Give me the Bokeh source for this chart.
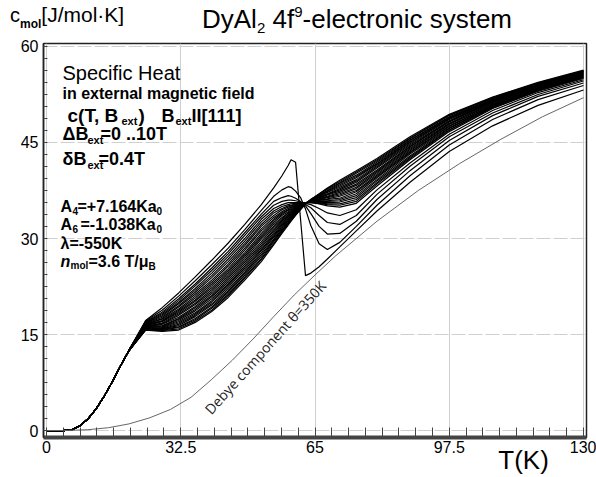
from bokeh.plotting import figure
from bokeh.models import Range1d, FixedTicker, Label, Div, LinearAxis
from bokeh.layouts import column
from bokeh.embed import file_html
from bokeh.resources import INLINE

# ---------------- data ----------------
# common steep low-temperature part (all fields coincide)
T_low = [0, 4, 6, 8, 10, 12, 14, 16, 18]
c_low = [0, 0, 0.1, 0.7, 1.8, 3.4, 5.4, 7.7, 10.2]

T_grid = [20, 24, 28, 32, 36, 40, 44, 48, 52, 55, 57, 58.5, 59.2, 60.3, 61.5, 62.7,
          64, 66, 68, 71, 75, 80, 88, 97.5, 108, 119, 130]

# c(T) for B_ext = 0, 0.4, ..., 10 T
c_B00 = [12.6, 17.2, 19.2, 21.5, 24.0, 26.6, 29.3, 32.2, 35.3, 37.9, 39.8, 41.4, 42.3, 41.9, 33.0, 24.2,
         24.6, 25.6, 26.8, 28.7, 31.2, 34.3, 38.8, 43.6, 47.6, 50.8, 53.2]
c_B04 = [12.6, 17.1, 18.8, 21.0, 23.4, 25.9, 28.5, 31.4, 34.4, 36.6, 37.6, 38.1, 38.0, 37.4, 36.4, 34.6,
         32.0, 29.2, 28.3, 29.4, 31.9, 35.2, 39.8, 44.6, 48.6, 51.7, 53.9]
c_B08 = [12.6, 17.0, 18.5, 20.6, 22.9, 25.4, 28.0, 30.9, 33.8, 35.8, 36.4, 36.7, 36.6, 36.3, 35.8, 35.1,
         33.9, 31.9, 30.7, 30.8, 32.7, 36.1, 40.6, 45.3, 49.2, 52.2, 54.3]
c_B12 = [12.6, 16.9, 18.3, 20.3, 22.6, 25.0, 27.6, 30.5, 33.4, 35.2, 35.8, 36.0, 36.0, 35.9, 35.7, 35.3,
         34.8, 33.6, 32.5, 32.2, 33.6, 36.9, 41.3, 45.9, 49.6, 52.5, 54.6]
c_B16 = [12.6, 16.8, 18.1, 20.0, 22.2, 24.6, 27.2, 30.0, 33.0, 34.7, 35.3, 35.6, 35.6, 35.6, 35.6, 35.5,
         35.3, 34.7, 34.0, 33.6, 34.5, 37.6, 41.8, 46.3, 50.0, 52.8, 54.8]
c_B20 = [12.6, 16.8, 17.9, 19.8, 21.9, 24.2, 26.8, 29.6, 32.6, 34.3, 35.0, 35.3, 35.4, 35.5, 35.6, 35.6,
         35.6, 35.4, 35.1, 34.9, 35.5, 38.2, 42.3, 46.7, 50.3, 53.0, 55.0]
c_B24 = [12.6, 16.7, 17.7, 19.5, 21.6, 23.9, 26.4, 29.2, 32.2, 34.0, 34.7, 35.1, 35.2, 35.4, 35.5, 35.6,
         35.6, 35.5, 35.3, 35.2, 35.8, 38.5, 42.5, 46.9, 50.4, 53.1, 55.1]
c_B28 = [12.6, 16.6, 17.5, 19.3, 21.3, 23.5, 26.0, 28.9, 31.9, 33.6, 34.5, 34.9, 35.1, 35.3, 35.5, 35.6,
         35.7, 35.6, 35.4, 35.4, 36.1, 38.7, 42.7, 47.0, 50.5, 53.2, 55.2]
c_B32 = [12.6, 16.6, 17.4, 19.0, 21.0, 23.2, 25.7, 28.5, 31.5, 33.3, 34.2, 34.7, 34.9, 35.2, 35.4, 35.6,
         35.7, 35.7, 35.6, 35.7, 36.4, 39.0, 42.9, 47.2, 50.6, 53.3, 55.2]
c_B36 = [12.6, 16.5, 17.2, 18.8, 20.7, 22.9, 25.3, 28.2, 31.2, 33.0, 34.0, 34.5, 34.8, 35.1, 35.3, 35.6,
         35.7, 35.8, 35.8, 35.9, 36.7, 39.2, 43.2, 47.3, 50.7, 53.3, 55.3]
c_B40 = [12.6, 16.4, 17.1, 18.6, 20.4, 22.6, 25.0, 27.8, 30.8, 32.8, 33.8, 34.4, 34.6, 35.0, 35.3, 35.5,
         35.7, 35.9, 35.9, 36.1, 37.0, 39.5, 43.4, 47.5, 50.8, 53.4, 55.4]
c_B44 = [12.6, 16.4, 17.0, 18.4, 20.2, 22.3, 24.7, 27.5, 30.5, 32.5, 33.6, 34.2, 34.5, 34.9, 35.2, 35.5,
         35.8, 36.0, 36.1, 36.3, 37.3, 39.7, 43.5, 47.6, 50.9, 53.5, 55.4]
c_B48 = [12.6, 16.3, 16.8, 18.2, 19.9, 22.0, 24.4, 27.2, 30.2, 32.2, 33.3, 34.0, 34.3, 34.8, 35.2, 35.5,
         35.8, 36.0, 36.2, 36.6, 37.5, 39.9, 43.7, 47.8, 51.0, 53.6, 55.5]
c_B52 = [12.5, 16.3, 16.7, 18.0, 19.7, 21.7, 24.1, 26.9, 29.9, 31.9, 33.1, 33.9, 34.2, 34.7, 35.1, 35.5,
         35.8, 36.1, 36.4, 36.8, 37.8, 40.1, 43.9, 47.9, 51.1, 53.6, 55.6]
c_B56 = [12.5, 16.2, 16.6, 17.7, 19.4, 21.4, 23.8, 26.6, 29.5, 31.7, 32.9, 33.7, 34.1, 34.6, 35.1, 35.5,
         35.8, 36.2, 36.5, 37.0, 38.0, 40.3, 44.1, 48.0, 51.2, 53.7, 55.6]
c_B60 = [12.5, 16.2, 16.4, 17.5, 19.2, 21.1, 23.5, 26.3, 29.2, 31.4, 32.7, 33.6, 33.9, 34.5, 35.0, 35.5,
         35.9, 36.3, 36.6, 37.2, 38.3, 40.5, 44.3, 48.2, 51.3, 53.8, 55.7]
c_B64 = [12.5, 16.1, 16.3, 17.4, 18.9, 20.9, 23.2, 26.0, 28.9, 31.2, 32.5, 33.4, 33.8, 34.4, 35.0, 35.5,
         35.9, 36.3, 36.8, 37.4, 38.5, 40.7, 44.4, 48.3, 51.4, 53.8, 55.8]
c_B68 = [12.5, 16.1, 16.2, 17.2, 18.7, 20.6, 22.9, 25.7, 28.6, 30.9, 32.3, 33.3, 33.7, 34.3, 34.9, 35.5,
         35.9, 36.4, 36.9, 37.6, 38.8, 41.0, 44.6, 48.4, 51.5, 53.9, 55.8]
c_B72 = [12.5, 16.0, 16.1, 17.0, 18.4, 20.3, 22.7, 25.4, 28.3, 30.6, 32.1, 33.1, 33.5, 34.2, 34.8, 35.5,
         35.9, 36.5, 37.0, 37.8, 39.0, 41.2, 44.8, 48.6, 51.5, 54.0, 55.9]
c_B76 = [12.5, 16.0, 16.0, 16.8, 18.2, 20.1, 22.4, 25.1, 28.1, 30.4, 31.9, 33.0, 33.4, 34.1, 34.8, 35.5,
         36.0, 36.6, 37.2, 38.0, 39.2, 41.4, 45.0, 48.7, 51.6, 54.0, 56.0]
c_B80 = [12.5, 15.9, 15.9, 16.6, 18.0, 19.8, 22.1, 24.8, 27.8, 30.2, 31.7, 32.8, 33.3, 34.0, 34.7, 35.5,
         36.0, 36.6, 37.3, 38.2, 39.5, 41.6, 45.1, 48.8, 51.7, 54.1, 56.0]
c_B84 = [12.5, 15.9, 15.9, 16.4, 17.8, 19.6, 21.8, 24.6, 27.5, 29.9, 31.5, 32.7, 33.2, 33.9, 34.7, 35.4,
         36.0, 36.7, 37.4, 38.4, 39.7, 41.7, 45.3, 48.9, 51.8, 54.2, 56.1]
c_B88 = [12.5, 15.8, 15.8, 16.2, 17.5, 19.3, 21.6, 24.3, 27.2, 29.7, 31.3, 32.5, 33.0, 33.9, 34.6, 35.4,
         36.0, 36.8, 37.5, 38.6, 39.9, 41.9, 45.4, 49.0, 51.9, 54.2, 56.1]
c_B92 = [12.5, 15.8, 15.7, 16.1, 17.3, 19.1, 21.3, 24.0, 26.9, 29.5, 31.2, 32.4, 32.9, 33.8, 34.6, 35.4,
         36.1, 36.9, 37.7, 38.7, 40.2, 42.1, 45.6, 49.2, 52.0, 54.3, 56.2]
c_B96 = [12.5, 15.7, 15.6, 15.9, 17.1, 18.8, 21.1, 23.8, 26.7, 29.2, 31.0, 32.2, 32.8, 33.7, 34.6, 35.4,
         36.1, 36.9, 37.8, 38.9, 40.4, 42.3, 45.7, 49.3, 52.0, 54.3, 56.2]
c_B100 = [12.5, 15.7, 15.5, 15.7, 16.9, 18.6, 20.8, 23.5, 26.4, 29.0, 30.8, 32.1, 32.7, 33.6, 34.5, 35.4,
          36.1, 37.0, 37.9, 39.1, 40.6, 42.5, 45.9, 49.4, 52.1, 54.4, 56.3]

curves = [c_B00, c_B04, c_B08, c_B12, c_B16, c_B20, c_B24, c_B28, c_B32, c_B36, c_B40, c_B44, c_B48,
          c_B52, c_B56, c_B60, c_B64, c_B68, c_B72, c_B76, c_B80, c_B84, c_B88, c_B92, c_B96, c_B100]

# Debye lattice component, theta = 350 K
T_debye = [0, 5, 10, 15, 20, 25, 30, 35, 40, 45, 50, 55, 60, 65, 70, 80, 90, 100, 110, 120, 130]
c_debye = [0, 0.02, 0.14, 0.45, 1.05, 2.0, 3.3, 5.2, 8.0, 11.0, 14.3, 17.8, 21.2, 24.3, 27.3,
           32.7, 37.5, 41.7, 45.5, 49.0, 52.0]

x_ticks = [0, 32.5, 65, 97.5, 130]
y_ticks = [0, 15, 30, 45, 60]
x_tick_labels = {0: "0", 32.5: "32.5", 65: "65", 97.5: "97.5", 130: "130"}

FONT = "Liberation Sans"

# ---------------- header (title + y-axis quantity) ----------------
header_svg = (
    '<svg xmlns="http://www.w3.org/2000/svg" width="596" height="38" style="display:block">'
    f'<text x="10" y="22" font-family="{FONT}" font-size="20" fill="black">c'
    '<tspan dy="6" font-size="12" font-weight="bold">mol</tspan>'
    '<tspan dy="-6" font-size="21">[J/mol·K]</tspan></text>'
    f'<text x="202" y="28" font-family="{FONT}" font-size="26" fill="black">DyAl'
    '<tspan dy="5" font-size="15">2</tspan>'
    '<tspan dy="-5" font-size="26">&#160;4f</tspan>'
    '<tspan dy="-11" font-size="15">9</tspan>'
    '<tspan dy="11" font-size="26">-electronic system</tspan></text>'
    '</svg>'
)
header = Div(text=header_svg, width=596, height=38, margin=(0, 0, 0, 0))

# ---------------- figure ----------------
p = figure(width=596, height=439, output_backend="svg", toolbar_location=None,
           x_range=Range1d(-0.726, 130.726), y_range=Range1d(-1.08, 60.463),
           min_border_left=43, min_border_right=10, min_border_top=5, min_border_bottom=35)
p.title.visible = False
p.background_fill_color = "white"
p.outline_line_color = "#222222"
p.outline_line_width = 1.5

x_minor = [i * 32.5 / 8 for i in range(33)]
y_minor = [i * 15 / 8 for i in range(33)]
p.xaxis.ticker = FixedTicker(ticks=x_ticks, minor_ticks=x_minor)
p.yaxis.ticker = FixedTicker(ticks=y_ticks, minor_ticks=y_minor)
p.xaxis.major_label_overrides = x_tick_labels
for ax in (p.xaxis, p.yaxis):
    ax.major_label_text_font = FONT
    ax.major_label_text_font_size = "16px"
    ax.major_label_text_color = "black"
    ax.major_tick_in = 0
    ax.major_tick_out = 0
    ax.minor_tick_out = 0
    ax.minor_tick_line_color = "#444444"
p.xaxis.minor_tick_in = 10
p.yaxis.minor_tick_in = 4
p.xaxis.axis_line_color = "#444444"
p.xaxis.axis_line_width = 4
p.yaxis.axis_line_color = "#222222"
p.yaxis.axis_line_width = 1.5
p.xaxis.major_label_standoff = 3
p.yaxis.major_label_standoff = 5

# x-axis quantity "T(K)" as a label-only axis placed right of the 97.5 tick
t_axis = LinearAxis(ticker=FixedTicker(ticks=[115.5], minor_ticks=[]),
                    major_label_overrides={115.5: "T(K)"},
                    axis_line_color=None, major_tick_line_color=None, minor_tick_line_color=None,
                    major_label_text_font=FONT, major_label_text_font_size="26px",
                    major_label_text_color="black", major_label_standoff=-17)
p.add_layout(t_axis, "below")

p.xgrid.ticker = FixedTicker(ticks=x_ticks)
p.ygrid.ticker = FixedTicker(ticks=y_ticks)
p.xgrid.grid_line_color = "#cfcfcf"
p.ygrid.grid_line_color = "#cfcfcf"
p.ygrid.grid_line_dash = "14 3"

# curves
for c in curves:
    p.line(T_low + T_grid, c_low + c, line_color="black", line_width=1.2)
p.line(T_debye, c_debye, line_color="#666666", line_width=1.0)

# ---------------- texts inside the frame ----------------
def lab(text, px, py, size, style="normal", font=FONT, angle=0.0, color="black"):
    # px, py: page pixel position of the text's left baseline
    x = (px - 46) / 4.131
    y = (435 - py) / 6.484
    p.add_layout(Label(x=x, y=y, text=text, text_font=font, text_font_size=f"{size}px",
                       text_font_style=style, text_color=color, text_baseline="alphabetic",
                       text_align="left", angle=angle))

lab("Specific Heat", 62, 73, 20)
lab("in external magnetic field", 62, 94, 16, "bold")
lab("c(T, B", 67, 116, 19, "bold")
lab("ext", 121, 121, 11, "bold")
lab(")", 138, 116, 19, "bold")
lab("B", 161, 116, 18, "bold")
lab("ext", 175, 121, 11, "bold")
lab("II[111]", 191, 116, 18, "bold")
lab("ΔB", 62, 135, 18, "bold")
lab("ext", 87, 141, 11, "bold")
lab("=0 ..10T", 100, 135, 18, "bold")
lab("δB", 62, 160, 18, "bold")
lab("ext", 87, 166, 11, "bold")
lab("=0.4T", 98, 160, 18, "bold")

lab("A", 60, 208, 16, "bold")
lab("4", 72, 213, 10, "bold")
lab("=+7.164Ka", 77, 208, 16, "bold")
lab("0", 156, 213, 10, "bold")
lab("A", 60, 226, 16, "bold")
lab("6", 72, 231, 10, "bold")
lab("=-1.038Ka", 80, 226, 16, "bold")
lab("0", 156, 231, 10, "bold")
lab("λ=-550K", 60, 246, 16, "bold")
lab("n", 60, 264, 16, "bold italic")
lab("mol", 70, 268, 10, "bold")
lab("=3.6 T/μ", 88, 264, 16, "bold")
lab("B", 148, 269, 10, "bold")

lab("Debye component θ=350K", 207, 416, 14, font="Open Sans", angle=0.84, color="#222222")

open("out.html", "w").write(file_html(column(header, p, spacing=0), INLINE))
